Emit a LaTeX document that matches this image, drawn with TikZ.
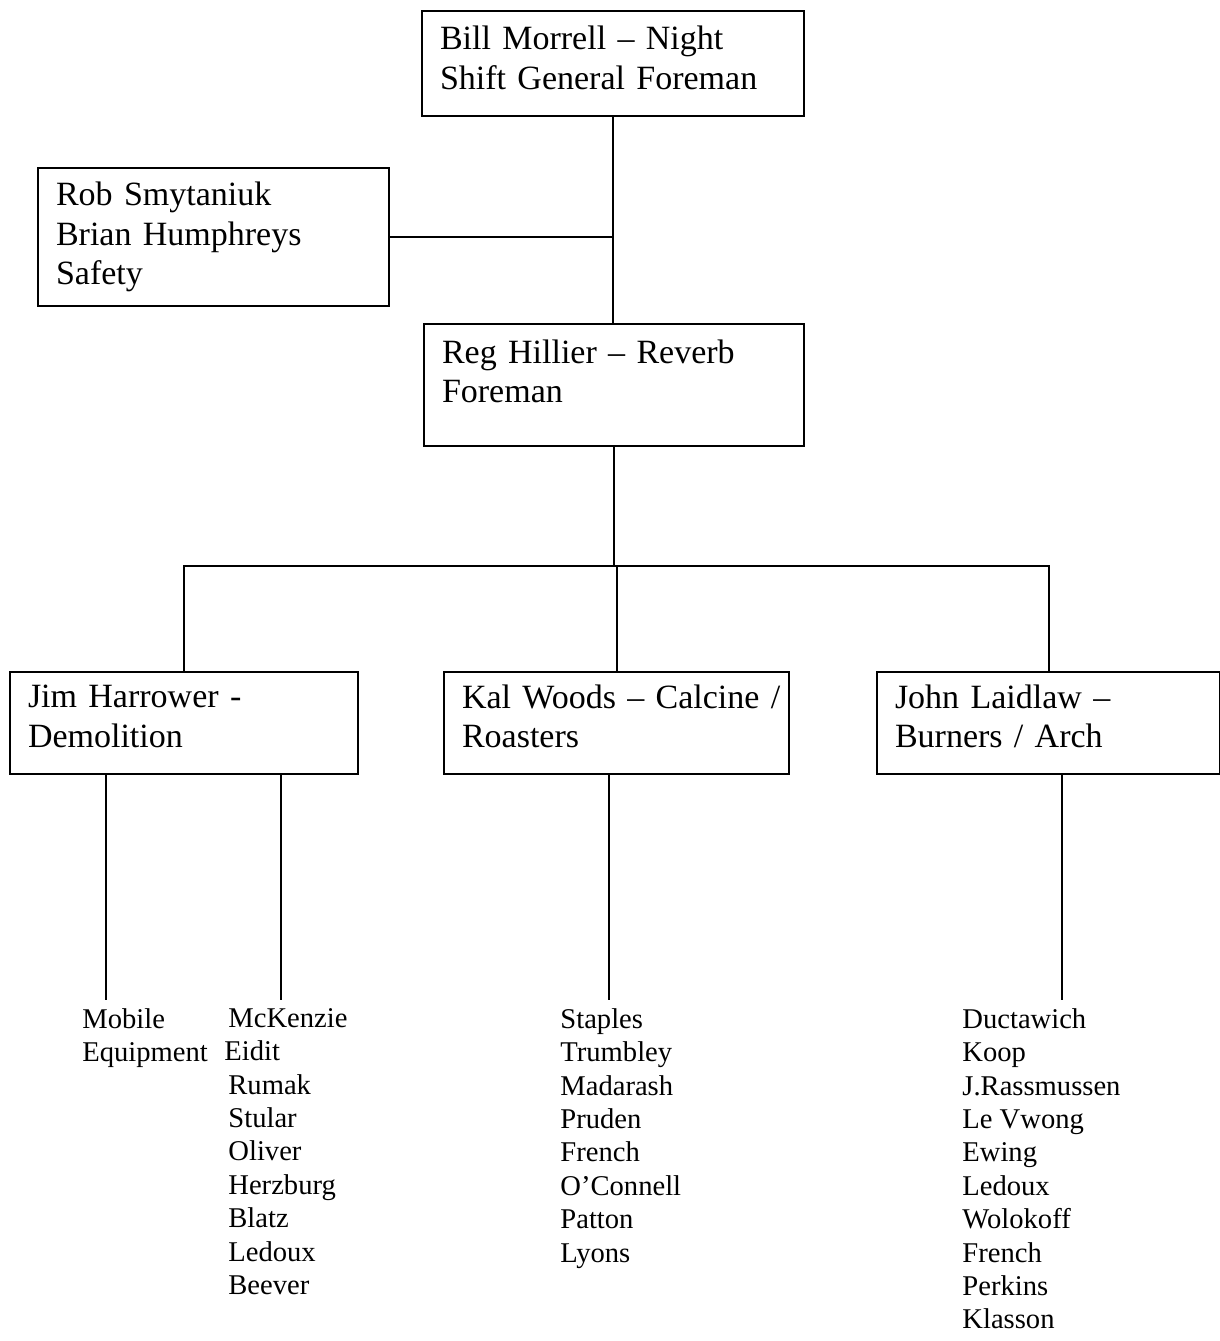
\documentclass[tikz,border=0pt]{standalone}
\usepackage{fontspec}
\setmainfont{Liberation Serif}

\newcommand{\padline}[1]{\rule[-#1]{0pt}{#1}}

\begin{document}
\begin{tikzpicture}[x = 0.5pt, y = -0.5pt]
	\tikzstyle{boxStyle} = [draw, line width = 1pt, anchor = north west, align = left, inner xsep = 9pt, inner ysep = 0pt, font = \fontsize{17}{19.75}\selectfont]
	\tikzstyle{listStyle} = [anchor = north west, align = left, inner sep = 0pt, font = \fontsize{14.3}{16.7}\selectfont]
	\tikzstyle{EdgeStyle} = [line width = 1pt]
	\useasboundingbox (0, 0) rectangle (1220, 1341);
	\node[boxStyle, text width = 173pt, minimum height = 52.5pt] (bill) at (421, 10) {Bill Morrell -- Night\\Shift General Foreman\padline{6pt}};
	\node[boxStyle, text width = 157.5pt, minimum height = 69pt] (safety) at (37, 167) {Rob Smytaniuk\\Brian Humphreys\\Safety};
	\node[boxStyle, text width = 172pt, minimum height = 61pt] (reg) at (423, 323) {Reg Hillier -- Reverb\\Foreman\padline{14pt}};
	\node[boxStyle, text width = 156pt, minimum height = 51pt] (jim) at (9, 671) {Jim Harrower -\\Demolition\padline{7pt}};
	\node[boxStyle, text width = 154.5pt, minimum height = 51pt] (kal) at (443, 671) {\mbox{Kal Woods -- Calcine /}\\Roasters\padline{7pt}};
	\node[boxStyle, text width = 153.5pt, minimum height = 51pt] (john) at (876, 671) {John Laidlaw --\\Burners / Arch\padline{7pt}};
	\node[listStyle] (mobile) at (82, 1008) {Mobile\\Equipment};
	\node[listStyle] (crew) at (228, 1008) {McKenzie\\\hspace*{-2pt}Eidit\\Rumak\\Stular\\Oliver\\Herzburg\\Blatz\\Ledoux\\Beever};
	\node[listStyle] (roasters) at (560, 1008) {Staples\\Trumbley\\Madarash\\Pruden\\French\\O'Connell\\Patton\\Lyons};
	\node[listStyle] (burners) at (962, 1008) {Ductawich\\Koop\\J.Rassmussen\\Le Vwong\\Ewing\\Ledoux\\Wolokoff\\French\\Perkins\\Klasson};
	\coordinate (split) at (613, 566);
	\coordinate (mobileEnd) at (106, 1000);
	\coordinate (crewEnd) at (281, 1000);
	\coordinate (roastersEnd) at (609, 1000);
	\coordinate (burnersEnd) at (1062, 1000);
	\draw[EdgeStyle] (bill.south) -- (bill.south |- reg.north);
	\draw[EdgeStyle] (safety.east) -- (safety.east -| bill.south);
	\draw[EdgeStyle] (reg.south) -- (reg.south |- split);
	\draw[EdgeStyle] (jim.north) |- (split) -| (john.north);
	\draw[EdgeStyle] (kal.north |- split) -- (kal.north);
	\draw[EdgeStyle] (mobileEnd |- jim.south) -- (mobileEnd);
	\draw[EdgeStyle] (crewEnd |- jim.south) -- (crewEnd);
	\draw[EdgeStyle] (roastersEnd |- kal.south) -- (roastersEnd);
	\draw[EdgeStyle] (burnersEnd |- john.south) -- (burnersEnd);
\end{tikzpicture}
\end{document}
